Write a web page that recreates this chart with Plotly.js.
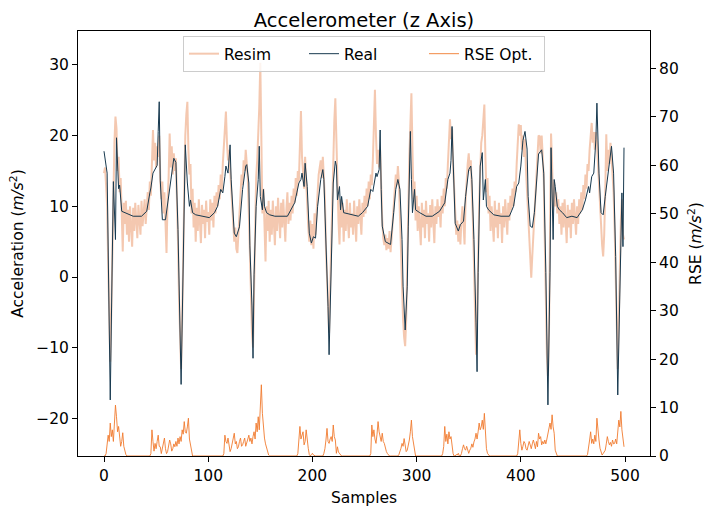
<!DOCTYPE html>
<html>
<head>
<meta charset="utf-8">
<script src="https://cdn.plot.ly/plotly-3.0.1.min.js"></script>
<style>
  html, body { margin: 0; padding: 0; background: #fff; }
  #chart { width: 713px; height: 511px; }
</style>
</head>
<body>
<div id="chart"></div>
<script>
// real accelerometer trace at its turning points
const realX = [0, 3, 6, 9, 11, 12, 14, 15, 17, 28, 36, 41, 44, 45, 47, 49, 51, 52, 53, 54,
  56, 59, 61, 65, 67, 69, 71, 74, 77, 78, 80, 82, 83, 85, 88, 95, 101, 106, 109, 112,
  114, 116, 117, 119, 121, 122, 124, 125, 127, 130, 133, 136, 137, 139, 140, 142, 143, 144, 146, 148,
  149, 150, 152, 153, 154, 156, 159, 164, 176, 179, 183, 185, 187, 189, 190, 192, 193, 195, 196, 197,
  199, 201, 203, 205, 208, 210, 211, 213, 215, 216, 218, 219, 220, 222, 223, 224, 226, 227, 228, 230,
  237, 244, 248, 253, 256, 258, 261, 262, 264, 265, 266, 267, 270, 275, 278, 280, 282, 284, 286, 287,
  289, 291, 292, 293, 294, 295, 296, 298, 299, 303, 309, 315, 322, 327, 330, 332, 333, 334, 336, 337,
  340, 342, 345, 347, 350, 352, 353, 355, 357, 358, 359, 360, 361, 363, 364, 366, 367, 369, 374, 381,
  389, 393, 396, 398, 400, 402, 404, 406, 407, 409, 411, 413, 415, 417, 420, 422, 424, 426, 428, 429,
  431, 432, 433, 435, 437, 440, 444, 449, 454, 459, 462, 465, 466, 468, 470, 472, 473, 475, 477, 479,
  481, 485, 487, 489, 491, 493, 495, 497, 498, 499];
const realY = [17.8, 14.7, -17.4, 13.5, 5.3, 19.7, 12.5, 13.0, 9.3, 8.6, 8.6, 9.3, 11.9, 12.6, 14.7, 15.2, 15.8, 20.6, 24.8, 13.6,
  8.1, 8.1, 10.4, 14.7, 16.8, 16.2, 6.7, -15.2, 11.0, 18.7, 13.3, 10.0, 10.9, 9.1, 8.8, 8.6, 8.4, 9.1, 10.0, 12.4,
  11.9, 14.2, 15.7, 14.7, 18.7, 13.8, 8.6, 6.2, 5.7, 7.1, 12.4, 15.7, 15.9, 13.3, 4.4, -4.1, -11.5, 0.3, 10.0, 13.8,
  18.5, 11.4, 9.5, 12.4, 10.0, 9.1, 8.8, 8.6, 8.6, 9.5, 10.5, 11.9, 13.3, 13.8, 14.7, 12.8, 16.1, 12.8, 9.1, 6.2,
  4.8, 5.7, 5.5, 10.0, 13.8, 15.2, 13.8, 5.3, -4.2, -11.0, 0.6, 10.5, 13.3, 16.4, 15.7, 10.9, 12.8, 9.5, 11.4, 9.1,
  8.8, 8.6, 9.1, 10.0, 12.4, 12.1, 14.7, 14.2, 15.2, 20.8, 12.4, 7.2, 5.0, 4.6, 9.1, 12.4, 13.8, 12.4, 5.3, -1.3,
  -7.5, -1.3, 7.2, 15.7, 20.6, 13.8, 9.1, 12.4, 9.5, 9.1, 8.6, 8.6, 9.3, 10.5, 13.8, 14.7, 16.5, 21.3, 13.8, 7.6,
  6.5, 7.4, 7.9, 11.4, 15.2, 15.7, 13.8, 5.3, -6.5, -13.4, 0.6, 11.9, 15.7, 17.6, 10.9, 13.8, 10.0, 9.5, 8.8, 8.6,
  8.6, 10.0, 12.8, 13.3, 15.7, 19.3, 20.6, 18.1, 11.4, 7.2, 7.0, 9.1, 12.8, 17.4, 18.0, 14.7, 0.6, -18.1, 0.6, 18.3,
  5.3, 13.8, 12.8, 10.0, 9.5, 9.1, 8.4, 8.6, 8.4, 9.5, 10.9, 12.8, 11.9, 14.2, 14.7, 19.4, 24.6, 14.7, 9.1, 8.8,
  11.4, 15.7, 18.5, 14.7, 2.9, -16.7, 0.6, 11.9, 4.3, 18.3];

// resimulated trace, one value per sample (0..499)
const resim = [
  14.7, 15.5, 13.0, 10.0, 2.0, -6.0, -12.0, -5.0, 5.0, 13.0,
  19.0, 22.7, 21.0, 15.0, 17.0, 12.0, 14.0, 9.0, 3.6, 10.5,
  7.5, 10.8, 6.0, 9.5, 5.0, 10.0, 7.0, 4.3, 9.8, 6.5,
  10.5, 7.5, 5.5, 10.2, 8.0, 6.0, 10.8, 7.2, 9.0, 11.0,
  7.5, 10.5, 12.0, 9.5, 13.5, 11.5, 15.0, 20.8, 16.5, 19.0,
  15.5, 18.5, 17.0, 20.0, 14.0, 11.0, 13.5, 9.0, 12.0, 7.0,
  3.4, 11.0, 14.0, 20.3, 15.5, 18.5, 14.5, 17.5, 15.0, 16.8,
  12.0, 5.0, -3.0, -9.0, -13.0, -6.0, 4.0, 14.0, 20.0, 23.0,
  24.8, 18.0, 14.5, 16.0, 9.0, 12.5, 7.0, 10.5, 5.0, 9.8,
  6.5, 11.0, 8.0, 4.8, 10.2, 7.5, 9.5, 5.5, 10.8, 7.8,
  9.2, 6.0, 11.0, 8.0, 10.5, 7.0, 11.5, 9.0, 12.0, 10.0,
  13.0, 11.0, 14.5, 12.0, 16.0, 18.5, 21.0, 23.4, 19.0, 16.5,
  18.0, 15.0, 12.0, 9.0, 7.5, 5.0, 7.0, 4.0, 3.4, 6.5,
  9.0, 12.0, 14.5, 13.0, 16.5, 15.0, 18.0, 16.0, 14.0, 9.0,
  2.0, -4.0, -8.0, -10.0, -3.0, 8.0, 14.0, 16.5, 20.0, 24.0,
  30.3, 16.0, 9.0, 12.5, 6.0, 2.2, 10.0, 6.5, 10.8, 5.0,
  9.5, 6.0, 10.8, 7.0, 4.5, 10.0, 6.5, 11.2, 8.0, 5.5,
  10.5, 7.0, 11.0, 8.5, 5.0, 9.5, 12.0, 7.5, 10.5, 8.0,
  11.5, 9.0, 12.5, 10.5, 14.0, 11.5, 15.0, 13.5, 19.0, 23.5,
  17.0, 15.0, 12.5, 17.0, 13.0, 10.0, 7.0, 5.0, 8.0, 4.5,
  7.5, 4.0, 9.0, 6.0, 10.5, 12.0, 14.5, 15.5, 16.5, 14.0,
  17.0, 14.0, 11.0, 4.0, -1.0, -5.0, -7.9, -2.0, 5.0, 12.0,
  18.0, 22.0, 25.3, 19.0, 12.0, 8.0, 4.6, 11.0, 7.0, 10.5,
  5.0, 9.5, 6.5, 11.0, 8.0, 5.5, 10.5, 7.0, 9.0, 6.0,
  10.8, 8.0, 5.0, 10.0, 7.5, 11.0, 8.0, 6.0, 10.5, 8.5,
  11.5, 9.0, 12.5, 10.0, 13.5, 11.0, 14.5, 13.0, 16.5, 21.0,
  26.5, 20.0, 16.0, 18.0, 15.5, 18.0, 12.0, 8.0, 5.5, 4.5,
  6.0, 3.8, 5.5, 4.0, 6.5, 3.5, 5.5, 8.0, 10.5, 12.5,
  14.5, 13.0, 15.7, 13.5, 8.0, 3.0, -2.0, -6.0, -8.5, -9.8,
  -6.0, 0.0, 9.0, 17.0, 22.0, 26.0, 18.0, 11.0, 13.5, 8.0,
  11.5, 6.5, 10.0, 7.5, 4.5, 10.5, 7.0, 9.5, 5.5, 10.8,
  7.5, 9.0, 5.0, 10.2, 7.0, 11.0, 8.0, 4.8, 10.0, 7.5,
  11.0, 8.5, 10.0, 7.0, 11.5, 9.0, 12.5, 10.0, 14.0, 12.5,
  16.0, 19.0, 22.3, 19.5, 21.0, 16.0, 12.0, 9.5, 6.0, 8.0,
  5.0, 7.5, 4.6, 8.0, 10.0, 7.5, 4.6, 11.0, 14.0, 16.0,
  17.5, 15.0, 16.5, 13.0, 8.0, 2.0, -5.0, -11.0, -6.0, 4.0,
  10.0, 15.0, 19.0, 20.0, 22.0, 24.4, 17.0, 12.0, 14.0, 9.0,
  11.5, 6.5, 10.0, 7.5, 5.0, 10.8, 7.0, 9.5, 5.5, 10.5,
  7.5, 9.0, 4.8, 10.0, 7.0, 11.0, 8.0, 6.0, 10.5, 8.0,
  11.5, 9.5, 12.5, 10.0, 13.5, 12.0, 16.0, 19.0, 21.6, 20.0,
  21.5, 18.0, 20.0, 17.0, 19.5, 15.0, 12.0, 8.0, 4.0, 1.0,
  -0.1, 3.0, 6.0, 9.5, 13.0, 16.0, 18.5, 20.0, 19.9, 17.5,
  20.0, 17.0, 14.0, 5.0, -4.0, -11.0, -14.0, -8.0, 6.0, 20.3,
  16.0, 9.5, 13.5, 10.0, 12.0, 9.0, 11.0, 7.5, 10.0, 6.0,
  10.5, 7.0, 11.0, 8.0, 4.8, 10.2, 7.0, 9.5, 5.5, 10.5,
  7.5, 11.0, 8.5, 6.0, 10.0, 7.5, 11.0, 9.0, 12.0, 9.5,
  13.0, 11.0, 14.5, 12.5, 16.0, 15.0, 18.0, 20.0, 21.8, 19.0,
  20.5, 18.0, 20.5, 19.0, 16.0, 12.0, 9.0, 6.0, 4.5, 2.9,
  6.0, 12.0, 20.2, 15.0, 18.0, 16.0, 19.0, 17.0, 15.0, 12.0,
  7.0, 0.0, -8.0, -13.0, -6.0, 2.0, 8.0, 11.0, 6.0, 5.3
];

// RSE of the optimised run, one value per sample (right axis)
const rse = [
  0, 0, 0.5, 2.0, 4.3, 3.0, 6.8, 4.0, 5.4, 3.0,
  7.0, 10.5, 8.1, 5.0, 6.1, 3.5, 2.0, 3.0, 4.8, 2.0,
  1.0, 0.3, 0, 0, 0, 0, 0, 0, 0, 0,
  0, 0, 0, 0, 0, 0, 0, 0, 0, 0,
  0, 0, 0, 0, 0, 0.5, 5.4, 3.0, 1.0, 2.6,
  1.5, 3.0, 4.3, 2.0, 1.9, 0.5, 1.5, 2.5, 3.7, 1.5,
  0.5, 0.9, 2.0, 3.3, 2.5, 1.0, 1.5, 2.5, 1.9, 3.0,
  2.0, 3.7, 2.5, 4.0, 3.0, 5.4, 4.5, 7.1, 5.0, 4.7,
  6.0, 7.8, 3.5, 2.4, 0.55, 0, 0, 0, 0, 0,
  0, 0, 0, 0, 0, 0, 0, 0, 0, 0,
  0, 0, 0, 0, 0, 0, 0, 0, 0, 0,
  0, 0, 0, 0, 0, 0.5, 4.3, 3.0, 2.6, 3.7,
  2.0, 0.9, 1.5, 2.6, 3.5, 4.7, 2.5, 3.0, 1.5, 1.9,
  3.0, 3.7, 2.0, 2.3, 3.0, 3.7, 2.0, 2.6, 3.5, 4.3,
  3.0, 3.7, 2.5, 4.0, 5.0, 3.5, 6.8, 5.0, 8.1, 5.4,
  9.0, 14.7, 8.8, 6.0, 3.7, 2.5, 1.6, 0.8, 0.2, 0,
  0, 0, 0, 0, 0, 0, 0, 0, 0, 0,
  0, 0, 0, 0, 0, 0, 0, 0, 0, 0,
  0, 0, 0, 0, 0, 0, 0.5, 3.3, 6.1, 3.5,
  4.3, 5.0, 2.3, 3.0, 5.4, 2.5, 1.6, 0.3, 0, 0.3,
  0.55, 0.2, 0, 0, 0, 0, 0, 0, 0, 0,
  0, 0.55, 1.5, 3.3, 5.7, 3.0, 2.6, 3.5, 4.0, 3.0,
  6.4, 4.0, 3.3, 0.55, 1.9, 0.8, 0.5, 0.2, 0, 0,
  0, 0, 0, 0, 0, 0, 0, 0, 0, 0,
  0, 0, 0, 0, 0, 0, 0, 0, 0, 0,
  0, 0, 0, 0, 0, 0, 0.5, 6.4, 4.0, 5.4,
  3.5, 2.6, 4.5, 7.1, 5.0, 4.0, 3.0, 4.7, 3.0, 2.6,
  1.5, 0.9, 0.5, 0.2, 0, 0, 0, 0, 0, 0,
  0, 0, 0, 0.3, 0.8, 1.6, 2.6, 2.0, 3.6, 1.5,
  0.9, 1.2, 2.0, 3.3, 5.0, 7.4, 4.0, 2.9, 1.0, 0,
  0, 0, 0, 0, 0, 0, 0, 0, 0, 0,
  0, 0, 0, 0, 0, 0, 0, 0, 0, 0,
  0, 0, 0, 0, 0, 0.5, 2.0, 6.1, 3.0, 4.5,
  2.5, 5.0, 3.5, 4.0, 1.9, 0.5, 0, 0, 0.3, 0.2,
  0.55, 0, 0, 0.5, 1.5, 2.3, 1.5, 1.2, 2.0, 1.0,
  0.55, 1.2, 1.6, 2.5, 1.8, 2.9, 3.5, 4.7, 3.5, 5.0,
  6.8, 5.4, 6.0, 7.4, 5.5, 8.8, 3.3, 1.5, 0.55, 0.2,
  0, 0, 0, 0, 0, 0, 0, 0, 0, 0,
  0, 0, 0, 0, 0, 0, 0, 0, 0, 0,
  0, 0, 0, 0, 0, 0, 0, 0.5, 3.0, 5.4,
  2.6, 1.2, 2.0, 3.0, 2.6, 1.5, 1.2, 2.5, 3.0, 2.3,
  1.5, 2.5, 3.3, 2.5, 1.5, 3.0, 1.9, 4.7, 3.5, 4.0,
  2.3, 3.0, 2.5, 3.3, 2.5, 3.5, 4.7, 5.5, 6.8, 5.5,
  8.5, 6.0, 4.7, 1.2, 0.5, 0, 0, 0, 0, 0,
  0, 0, 0, 0, 0, 0, 0, 0, 0, 0,
  0, 0, 0, 0, 0, 0, 0, 0, 0, 0,
  0, 0, 0, 0, 0.3, 1.5, 3.3, 5.0, 2.6, 3.5,
  2.5, 4.3, 3.0, 7.8, 5.0, 3.3, 1.6, 0.8, 0.2, 0.5,
  0.8, 1.2, 2.5, 4.0, 3.0, 2.3, 2.8, 2.0, 3.3, 2.5,
  2.6, 3.5, 2.5, 4.7, 7.4, 6.0, 9.2, 5.4, 3.0, 1.9
];

const samples = resim.map((_, i) => i);

const font = 'DejaVu Sans, Liberation Sans, sans-serif';

const traceResim = {
  x: samples,
  y: resim,
  name: 'Resim',
  type: 'scatter',
  mode: 'lines',
  line: { color: 'rgba(232,140,90,0.48)', width: 2 }
};

const traceReal = {
  x: realX,
  y: realY,
  name: 'Real',
  type: 'scatter',
  mode: 'lines',
  line: { color: '#17394f', width: 1 }
};

const traceRse = {
  x: samples,
  y: rse,
  name: 'RSE Opt.',
  type: 'scatter',
  mode: 'lines',
  yaxis: 'y2',
  line: { color: '#f07a2f', width: 0.9 }
};

const axisCommon = {
  showgrid: false,
  zeroline: false,
  showline: true,
  linecolor: '#000',
  linewidth: 1,
  ticks: 'outside',
  ticklen: 5,
  tickcolor: '#000',
  tickfont: { family: font, size: 15.5, color: '#000' }
};

const layout = {
  width: 713,
  height: 511,
  margin: { l: 78, r: 63, t: 31, b: 55 },
  paper_bgcolor: '#fff',
  plot_bgcolor: '#fff',
  font: { family: font, size: 15.5, color: '#000' },
  title: {
    text: 'Accelerometer (z Axis)',
    font: { family: font, size: 19.5, color: '#000' },
    xref: 'paper', x: 0.5, xanchor: 'center', y: 0.96, yanchor: 'middle'
  },
  showlegend: true,
  legend: {
    orientation: 'h',
    x: 0.5, xanchor: 'center',
    y: 0.988, yanchor: 'top',
    entrywidth: 75,
    bgcolor: 'rgba(255,255,255,0.8)',
    bordercolor: '#cccccc',
    borderwidth: 1,
    font: { family: font, size: 15.5, color: '#000' }
  },
  xaxis: Object.assign({}, axisCommon, {
    range: [-24.95, 523.95],
    tickmode: 'linear', tick0: 0, dtick: 100,
    mirror: true,
    title: { text: 'Samples', font: { family: font, size: 15.5 }, standoff: 8 }
  }),
  yaxis: Object.assign({}, axisCommon, {
    range: [-25.33, 34.81],
    tickmode: 'linear', tick0: 0, dtick: 10,
    title: { text: 'Acceleration (<i>m/s</i><sup>2</sup>)', font: { family: font, size: 15.5 }, standoff: 8 }
  }),
  yaxis2: Object.assign({}, axisCommon, {
    range: [0, 87.7],
    overlaying: 'y',
    side: 'right',
    tickmode: 'linear', tick0: 0, dtick: 10,
    title: { text: 'RSE (<i>m/s</i><sup>2</sup>)', font: { family: font, size: 15.5 }, standoff: 12 }
  })
};

Plotly.newPlot('chart', [traceResim, traceReal, traceRse], layout, { displayModeBar: false, staticPlot: true });
</script>
</body>
</html>
